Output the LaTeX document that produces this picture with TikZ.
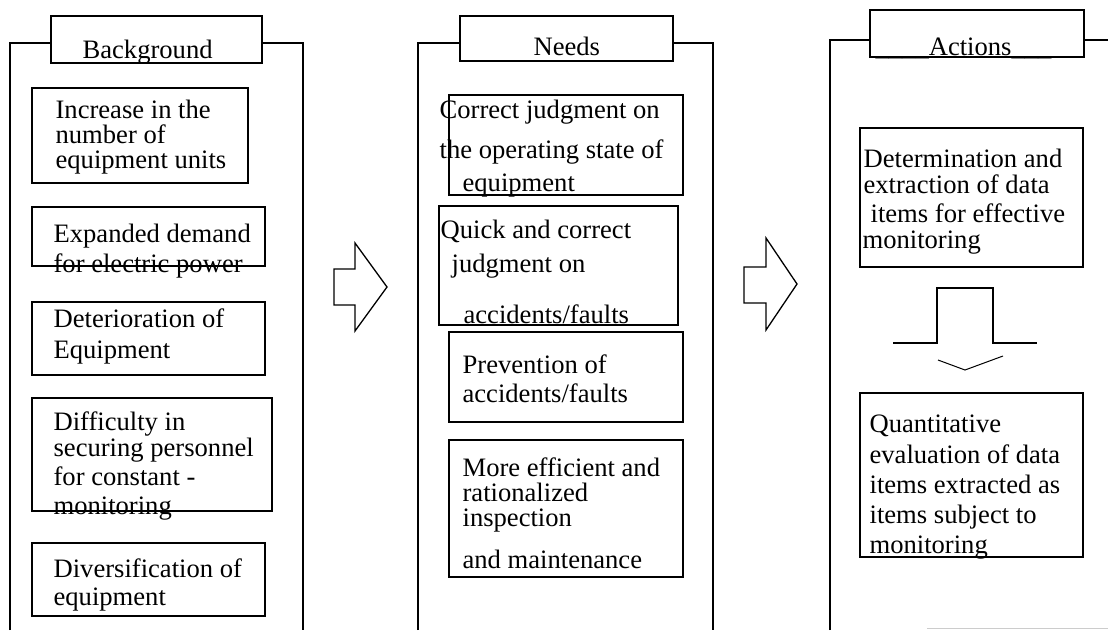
\documentclass[tikz,border=0pt]{standalone}
\usepackage{fontspec}
\setmainfont{Liberation Serif}
\begin{document}
\begin{tikzpicture}[x=1pt,y=-1pt,
  line width=1.2pt,
  box/.style={draw, inner sep=0pt},
  txt/.style={anchor=base west, inner sep=0pt, font=\fontsize{26.6}{30}\selectfont},
  blockarrow/.style={draw, line width=1.3pt, line join=miter}]
\useasboundingbox (0,0) rectangle (1108,630);
% ---------- Background panel ----------
\node[box, minimum width=211pt, minimum height=47pt] (bgT) at (156.5,39.5) {};
\node[txt] (bgTt) at (82,58) {Background};
\draw (10,630) -- (10,43) -- (51,43);
\draw (262,43) -- (303,43) -- (303,630);
\node[box, minimum width=216pt, minimum height=95pt] (bg1) at (140,135.5) {};
\node[txt] (bg1a) at (55,118) {Increase in the};
\node[txt] (bg1b) at (55,143) {number of};
\node[txt] (bg1c) at (55,168) {equipment units};
\node[box, minimum width=233pt, minimum height=59pt] (bg2) at (148.5,236.5) {};
\node[txt] (bg2a) at (53,242) {Expanded demand};
\node[txt] (bg2b) at (53,272) {for electric power};
\node[box, minimum width=233pt, minimum height=73pt] (bg3) at (148.5,338.5) {};
\node[txt] (bg3a) at (53,327) {Deterioration of};
\node[txt] (bg3b) at (53,358) {Equipment};
\node[box, minimum width=240pt, minimum height=113pt] (bg4) at (152,454.5) {};
\node[txt] (bg4a) at (53,430) {Difficulty in};
\node[txt] (bg4b) at (53,456) {securing personnel};
\node[txt] (bg4c) at (53,485) {for constant -};
\node[txt] (bg4d) at (53,514) {monitoring};
\node[box, minimum width=233pt, minimum height=73pt] (bg5) at (148.5,579.5) {};
\node[txt] (bg5a) at (53,577) {Diversification of};
\node[txt] (bg5b) at (53,605) {equipment};
% ---------- arrow 1 ----------
\draw[blockarrow] (334,269) -- (355,269) -- (355,243) -- (387,287) -- (355,331) -- (355,305) -- (334,305) -- cycle;
% ---------- Needs panel ----------
\node[box, minimum width=213pt, minimum height=45pt] (ndT) at (566.5,38.5) {};
\node[txt] (ndTt) at (533,55) {Needs};
\draw (418,630) -- (418,43) -- (460,43);
\draw (673,43) -- (713,43) -- (713,630);
\node[box, minimum width=234pt, minimum height=100pt] (nd1) at (566,145) {};
\node[txt] (nd1a) at (439,118) {Correct judgment on};
\node[txt] (nd1b) at (439,158) {the operating state of};
\node[txt] (nd1c) at (462,191) {equipment};
\node[box, minimum width=239pt, minimum height=119pt] (nd2) at (558.5,265.5) {};
\node[txt] (nd2a) at (440,238) {Quick and correct};
\node[txt] (nd2b) at (451,272) {judgment on};
\node[txt] (nd2c) at (463,323) {accidents/faults};
\node[box, minimum width=234pt, minimum height=90pt] (nd3) at (566,377) {};
\node[txt] (nd3a) at (462,373) {Prevention of};
\node[txt] (nd3b) at (462,402) {accidents/faults};
\node[box, minimum width=234pt, minimum height=137pt] (nd4) at (566,508.5) {};
\node[txt] (nd4a) at (462,476) {More efficient and};
\node[txt] (nd4b) at (462,501) {rationalized};
\node[txt] (nd4c) at (462,526) {inspection};
\node[txt] (nd4d) at (462,568) {and maintenance};
% ---------- arrow 2 ----------
\draw[blockarrow] (744,267) -- (766,267) -- (766,238) -- (797,284) -- (766,330) -- (766,303) -- (744,303) -- cycle;
% ---------- Actions panel ----------
\node[box, minimum width=214pt, minimum height=47pt] (acT) at (977,33.5) {};
\node[txt] (acTt) at (875,55) {\_\_\_\_Actions\_\_\_};
\draw (830,630) -- (830,40) -- (870,40);
\draw (1084,40) -- (1108,40);
\node[box, minimum width=223pt, minimum height=139pt] (ac1) at (971.5,197.5) {};
\node[txt] (ac1a) at (863,167) {Determination and};
\node[txt] (ac1b) at (863,193) {extraction of data};
\node[txt] (ac1c) at (870,222) {items for effective};
\node[txt] (ac1d) at (862,248) {monitoring};
% down block arrow (partly printed tip)
\draw[blockarrow] (893,343) -- (937,343) -- (937,288) -- (993,288) -- (993,343) -- (1037,343);
\draw[line width=1pt] (938,360) -- (965,370) -- (1003,356);
\node[box, minimum width=223pt, minimum height=164pt] (ac2) at (971.5,475) {};
\node[txt] (ac2a) at (869,432) {Quantitative};
\node[txt] (ac2b) at (869,463) {evaluation of data};
\node[txt] (ac2c) at (869,493) {items extracted as};
\node[txt] (ac2d) at (869,523) {items subject to};
\node[txt] (ac2e) at (869,553) {monitoring};
\draw[gray!40, line width=1pt] (927,628) -- (1108,628);
\end{tikzpicture}
\end{document}
